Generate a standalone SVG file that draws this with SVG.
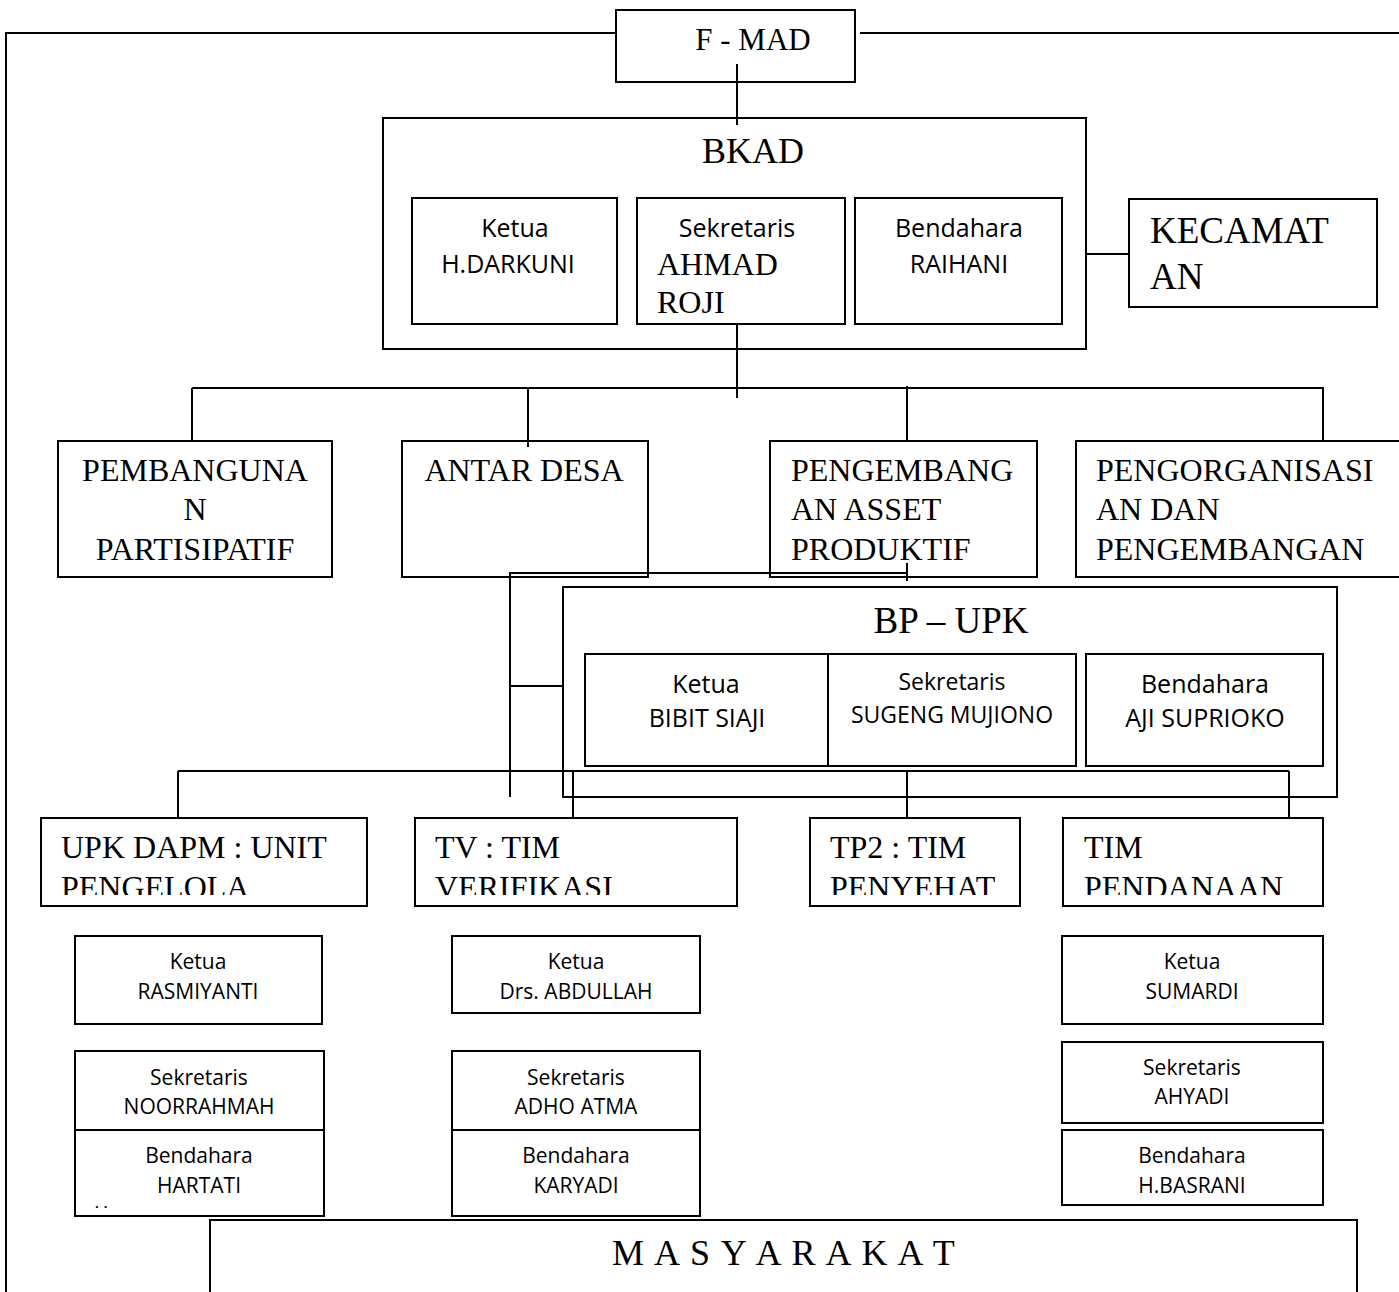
<svg xmlns="http://www.w3.org/2000/svg" width="1399" height="1292" viewBox="0 0 1399 1292">
<style>
.b{fill:#fff;stroke:#000;stroke-width:2}
.l{fill:none;stroke:#000;stroke-width:2}
.t{font-family:"Liberation Serif","Times New Roman",serif;fill:#000}
.c{font-family:"Open Sans","Noto Sans",sans-serif;fill:#000;text-anchor:middle}
.m{text-anchor:middle}
</style>
<defs>
<clipPath id="cp1"><rect x="41" y="818" width="326" height="77"/></clipPath>
<clipPath id="cp2"><rect x="415" y="818" width="322" height="77"/></clipPath>
<clipPath id="cp3"><rect x="810" y="818" width="210" height="77"/></clipPath>
<clipPath id="cp4"><rect x="1063" y="818" width="260" height="77"/></clipPath>
</defs>
<rect width="1399" height="1292" fill="#fff"/>

<g id="fmad">
<rect class="b" x="616" y="10" width="239" height="72"/>
<text class="t m" x="753" y="50" font-size="31">F - MAD</text>
</g>

<g id="bkad">
<rect class="b" x="383" y="118" width="703" height="231"/>
<text class="t m" x="753" y="163" font-size="36">BKAD</text>
</g>
<g id="bkad-ketua">
<rect class="b" x="412" y="198" width="205" height="126"/>
<text class="c" x="515" y="237" font-size="25">Ketua</text>
<text class="c" x="508" y="273" font-size="25">H.DARKUNI</text>
</g>
<g id="bkad-sekretaris">
<rect class="b" x="637" y="198" width="208" height="126"/>
<text class="c" x="737" y="237" font-size="25">Sekretaris</text>
<text class="t" x="657" y="275" font-size="32">AHMAD</text>
<text class="t" x="657" y="313" font-size="32">ROJI</text>
</g>
<g id="bkad-bendahara">
<rect class="b" x="855" y="198" width="207" height="126"/>
<text class="c" x="959" y="237" font-size="25">Bendahara</text>
<text class="c" x="959" y="273" font-size="25">RAIHANI</text>
</g>

<g id="kecamatan">
<rect class="b" x="1129" y="199" width="248" height="108"/>
<text class="t" x="1150" y="243" font-size="37">KECAMAT</text>
<text class="t" x="1150" y="289" font-size="37">AN</text>
</g>

<g id="pembangunan">
<rect class="b" x="58" y="441" width="274" height="136"/>
<text class="t m" x="195" y="481" font-size="32">PEMBANGUNA</text>
<text class="t m" x="195" y="520" font-size="32">N</text>
<text class="t m" x="195" y="560" font-size="32">PARTISIPATIF</text>
</g>
<g id="antardesa">
<rect class="b" x="402" y="441" width="246" height="136"/>
<text class="t m" x="524" y="481" font-size="32">ANTAR DESA</text>
</g>
<g id="pengembangan">
<rect class="b" x="770" y="441" width="267" height="136"/>
<text class="t" x="791" y="481" font-size="32">PENGEMBANG</text>
<text class="t" x="791" y="520" font-size="32">AN ASSET</text>
<text class="t" x="791" y="560" font-size="32">PRODUKTIF</text>
</g>
<g id="pengorganisasi">
<rect class="b" x="1076" y="441" width="340" height="136"/>
<text class="t" x="1096" y="481" font-size="32">PENGORGANISASI</text>
<text class="t" x="1096" y="520" font-size="32">AN DAN</text>
<text class="t" x="1096" y="560" font-size="32">PENGEMBANGAN</text>
</g>

<g id="bpupk">
<rect class="b" x="563" y="587" width="774" height="210"/>
<text class="t m" x="951" y="633" font-size="37">BP – UPK</text>
</g>
<g id="bpupk-ketua">
<rect class="b" x="585" y="654" width="243" height="112"/>
<text class="c" x="706" y="693" font-size="25">Ketua</text>
<text class="c" x="707" y="727" font-size="25">BIBIT SIAJI</text>
</g>
<g id="bpupk-sekretaris">
<rect class="b" x="828" y="654" width="248" height="112"/>
<text class="c" x="952" y="690" font-size="23">Sekretaris</text>
<text class="c" x="952" y="723" font-size="23">SUGENG MUJIONO</text>
</g>
<g id="bpupk-bendahara">
<rect class="b" x="1086" y="654" width="237" height="112"/>
<text class="c" x="1205" y="693" font-size="25">Bendahara</text>
<text class="c" x="1205" y="727" font-size="25">AJI SUPRIOKO</text>
</g>

<g id="connectors">
<polyline class="l" points="6,1292 6,33 616,33"/>
<line class="l" x1="860" y1="33" x2="1399" y2="33"/>
<line class="l" x1="737" y1="64" x2="737" y2="125"/>
<line class="l" x1="1086" y1="254" x2="1129" y2="254"/>
<line class="l" x1="737" y1="324" x2="737" y2="398"/>
<line class="l" x1="192" y1="388" x2="1324" y2="388"/>
<line class="l" x1="192" y1="388" x2="192" y2="441"/>
<line class="l" x1="528" y1="388" x2="528" y2="447"/>
<line class="l" x1="907" y1="386" x2="907" y2="441"/>
<line class="l" x1="1323" y1="387" x2="1323" y2="441"/>
<polyline class="l" points="510,797 510,573 907,573"/>
<line class="l" x1="907" y1="563" x2="907" y2="581"/>
<line class="l" x1="510" y1="686" x2="563" y2="686"/>
<line class="l" x1="178" y1="771" x2="1289" y2="771"/>
<line class="l" x1="178" y1="771" x2="178" y2="818"/>
<line class="l" x1="573" y1="771" x2="573" y2="824"/>
<line class="l" x1="907" y1="771" x2="907" y2="824"/>
<line class="l" x1="1289" y1="771" x2="1289" y2="824"/>
</g>

<g id="upkdapm">
<rect class="b" x="41" y="818" width="326" height="88"/>
<g clip-path="url(#cp1)">
<text class="t" x="61" y="858" font-size="32">UPK DAPM : UNIT</text>
<text class="t" x="61" y="898" font-size="32">PENGELOLA</text>
</g>
</g>
<g id="tv">
<rect class="b" x="415" y="818" width="322" height="88"/>
<g clip-path="url(#cp2)">
<text class="t" x="435" y="858" font-size="32">TV : TIM</text>
<text class="t" x="435" y="898" font-size="32">VERIFIKASI</text>
</g>
</g>
<g id="tp2">
<rect class="b" x="810" y="818" width="210" height="88"/>
<g clip-path="url(#cp3)">
<text class="t" x="830" y="858" font-size="32">TP2 : TIM</text>
<text class="t" x="830" y="898" font-size="32">PENYEHAT</text>
</g>
</g>
<g id="timpendanaan">
<rect class="b" x="1063" y="818" width="260" height="88"/>
<g clip-path="url(#cp4)">
<text class="t" x="1084" y="858" font-size="32">TIM</text>
<text class="t" x="1084" y="898" font-size="32">PENDANAAN</text>
</g>
</g>

<g id="upk-ketua">
<rect class="b" x="75" y="936" width="247" height="88"/>
<text class="c" x="198" y="969" font-size="21">Ketua</text>
<text class="c" x="198" y="999" font-size="21">RASMIYANTI</text>
</g>
<g id="upk-sekretaris">
<rect class="b" x="75" y="1051" width="249" height="79"/>
<text class="c" x="199" y="1085" font-size="21">Sekretaris</text>
<text class="c" x="199" y="1114" font-size="21">NOORRAHMAH</text>
</g>
<g id="upk-bendahara">
<rect class="b" x="75" y="1130" width="249" height="86"/>
<text class="c" x="199" y="1163" font-size="21">Bendahara</text>
<text class="c" x="199" y="1193" font-size="21">HARTATI</text>
<text x="95" y="1208" font-family="Open Sans, sans-serif" font-size="13" font-weight="bold" letter-spacing="5">..</text>
</g>

<g id="tv-ketua">
<rect class="b" x="452" y="936" width="248" height="77"/>
<text class="c" x="576" y="969" font-size="21">Ketua</text>
<text class="c" x="576" y="999" font-size="21">Drs. ABDULLAH</text>
</g>
<g id="tv-sekretaris">
<rect class="b" x="452" y="1051" width="248" height="79"/>
<text class="c" x="576" y="1085" font-size="21">Sekretaris</text>
<text class="c" x="576" y="1114" font-size="21">ADHO ATMA</text>
</g>
<g id="tv-bendahara">
<rect class="b" x="452" y="1130" width="248" height="86"/>
<text class="c" x="576" y="1163" font-size="21">Bendahara</text>
<text class="c" x="576" y="1193" font-size="21">KARYADI</text>
</g>

<g id="tim-ketua">
<rect class="b" x="1062" y="936" width="261" height="88"/>
<text class="c" x="1192" y="969" font-size="21">Ketua</text>
<text class="c" x="1192" y="999" font-size="21">SUMARDI</text>
</g>
<g id="tim-sekretaris">
<rect class="b" x="1062" y="1042" width="261" height="81"/>
<text class="c" x="1192" y="1075" font-size="21">Sekretaris</text>
<text class="c" x="1192" y="1104" font-size="21">AHYADI</text>
</g>
<g id="tim-bendahara">
<rect class="b" x="1062" y="1130" width="261" height="75"/>
<text class="c" x="1192" y="1163" font-size="21">Bendahara</text>
<text class="c" x="1192" y="1193" font-size="21">H.BASRANI</text>
</g>

<g id="masyarakat">
<rect class="b" x="210" y="1220" width="1147" height="100"/>
<text class="t" x="612" y="1265" font-size="36" letter-spacing="1.5">M A S Y A R A K A T</text>
</g>
</svg>
